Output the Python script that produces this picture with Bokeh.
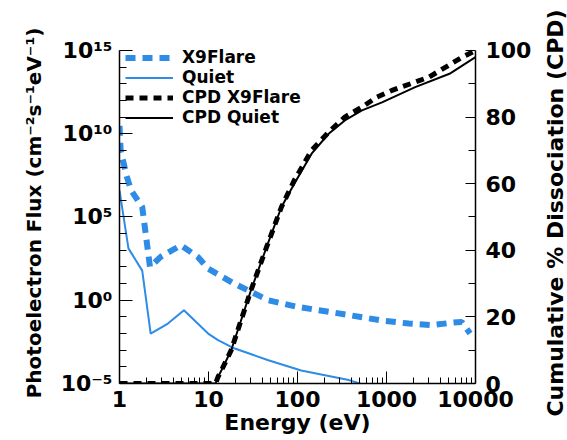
import math
from bokeh.plotting import figure
from bokeh.layouts import row
from bokeh.models import (Range1d, LinearScale, LinearAxis, FixedTicker, Legend, LegendItem)
from bokeh.embed import file_html
from bokeh.resources import INLINE

# ---- data ----
energy_flare = [1.0, 1.03, 1.2, 1.35, 1.8, 2.2, 2.9, 4.9, 7.6, 9.9, 19.4, 47, 100, 377,
                890, 1780, 3250, 5500, 7000, 8700]
flux_flare = [3e10, 1e9, 3e7, 4e6, 4e5, 1e2, 4e2, 2e3, 4e2, 8e1, 1e1, 1.0, 4e-1, 1.3e-1,
              6e-2, 4e-2, 3.2e-2, 4.5e-2, 5e-2, 1e-2]

energy_quiet = [1.0, 1.26, 1.8, 2.24, 3.5, 5.3, 9.9, 12.8, 19.4, 47, 110, 377, 500, 600]
flux_quiet = [4e6, 1.3e3, 6e1, 1e-2, 4e-2, 2.5e-1, 1e-2, 4e-3, 1.3e-3, 2.5e-4, 6e-5,
              1.6e-5, 1e-5, 6e-6]

energy_cpd_flare = [1, 12, 12.8, 14, 18, 30, 45, 66, 92, 144, 224, 340, 530, 780, 1150,
                    3000, 7100, 10000]
cpd_flare = [0, 0, 2, 4, 10, 28, 41, 53, 61, 70, 75.5, 80, 83, 86, 88, 92, 98, 100]

energy_cpd_quiet = [1, 12, 12.8, 14, 18, 30, 45, 66, 92, 144, 224, 340, 530, 890, 2100,
                    5100, 10000]
cpd_quiet = [0, 0, 2, 4, 10, 28, 41, 53, 60, 69, 75, 79, 82, 84.4, 89, 93, 98]

x_ticks = [1, 10, 100, 1000, 10000]
x_tick_labels = ["1", "10", "100", "1000", "10000"]
y_ticks = [1e-5, 1, 1e5, 1e10, 1e15]
y_tick_labels = ["10\u207b\u2075", "10\u2070", "10\u2075", "10\u00b9\u2070", "10\u00b9\u2075"]
cpd_ticks = [0, 20, 40, 60, 80, 100]
cpd_minor = [10, 30, 50, 70, 90]

x_title = "Energy (eV)"
y_title = "Photoelectron Flux (cm\u207b\u00b2s\u207b\u00b9eV\u207b\u00b9)"
y2_title = "Cumulative % Dissociation (CPD)"

FONT = "DejaVu Sans"
BLUE = "#2E8BE6"

# frame reaches 8 px above the top tick so that the legend is not clipped;
# the axes themselves are bounded to the data ranges
p = figure(width=539, height=440, x_axis_type="log", y_axis_type="log",
           x_range=Range1d(1, 10000), y_range=Range1d(1e-5, 10 ** 15.48),
           output_backend="svg", toolbar_location=None,
           min_border_left=119, min_border_right=64, min_border_top=42, min_border_bottom=57)
p.extra_y_ranges = {"cpd": Range1d(0, 102.4)}
p.extra_y_scales = {"cpd": LinearScale()}
p.outline_line_color = None
p.grid.visible = False

r1 = p.line(energy_flare, flux_flare, line_color=BLUE, line_width=6, line_dash="10 7")
r2 = p.line(energy_quiet, flux_quiet, line_color=BLUE, line_width=2)
r3 = p.line(energy_cpd_flare, cpd_flare, line_color="black", line_width=5, line_dash="8 6",
            y_range_name="cpd")
r4 = p.line(energy_cpd_quiet, cpd_quiet, line_color="black", line_width=2, y_range_name="cpd")

def style_axis(ax, tick_size="22px", label_size="22px"):
    ax.major_label_text_font = FONT
    ax.major_label_text_font_style = "bold"
    ax.major_label_text_font_size = tick_size
    ax.major_label_text_color = "black"
    ax.axis_label_text_font = FONT
    ax.axis_label_text_font_style = "bold"
    ax.axis_label_text_font_size = label_size
    ax.axis_label_text_color = "black"
    ax.axis_line_color = "black"
    ax.axis_line_width = 1.5
    ax.major_tick_line_color = "black"
    ax.minor_tick_line_color = "black"
    ax.major_tick_out = 0
    ax.minor_tick_out = 0

xa = p.xaxis[0]
xa.ticker = FixedTicker(ticks=x_ticks,
                        minor_ticks=[m * d for d in x_ticks[:-1] for m in range(2, 10)])
xa.major_label_overrides = dict(zip(x_ticks, x_tick_labels))
xa.axis_label = x_title
style_axis(xa)
xa.major_tick_in = 12
xa.minor_tick_in = 6
xa.major_label_standoff = 7
xa.axis_label_standoff = 0

ya = p.yaxis[0]
ya.ticker = FixedTicker(ticks=y_ticks, minor_ticks=[10.0 ** k for k in range(-5, 16)])
ya.major_label_overrides = dict(zip(y_ticks, y_tick_labels))
ya.axis_label = y_title
ya.bounds = (1e-5, 1e15)
style_axis(ya, "22px", "20px")
ya.major_tick_in = 13
ya.minor_tick_in = 7
ya.major_label_standoff = 7
ya.axis_label_standoff = 12

ra = LinearAxis(y_range_name="cpd", bounds=(0, 100),
                ticker=FixedTicker(ticks=cpd_ticks, minor_ticks=cpd_minor))
style_axis(ra)
ra.major_tick_in = 10
ra.minor_tick_in = 7
ra.major_label_standoff = 10
p.add_layout(ra, "right")

legend = Legend(items=[LegendItem(label="X9Flare", renderers=[r1]),
                       LegendItem(label="Quiet", renderers=[r2]),
                       LegendItem(label="CPD X9Flare", renderers=[r3]),
                       LegendItem(label="CPD Quiet", renderers=[r4])],
                location=(6, 256), orientation="vertical")
legend.label_text_font = FONT
legend.label_text_font_style = "bold"
legend.label_text_font_size = "17px"
legend.label_text_color = "black"
legend.label_height = 19
legend.glyph_height = 19
legend.glyph_width = 48
legend.label_standoff = 9
legend.spacing = -1
legend.padding = 2
legend.margin = 0
legend.border_line_color = None
legend.background_fill_alpha = 0
p.add_layout(legend, "center")

# right-hand title, reading bottom-to-top as in the reference: drawn as the
# (left, "parallel") axis label of a narrow companion figure
t = figure(width=28, height=440, x_range=Range1d(0, 1), y_range=Range1d(0, 1),
           output_backend="svg", toolbar_location=None,
           min_border_left=0, min_border_right=0, min_border_top=42, min_border_bottom=57)
t.xaxis.visible = False
t.grid.visible = False
t.outline_line_color = None
ty = t.yaxis[0]
ty.ticker = FixedTicker(ticks=[])
ty.axis_line_color = None
ty.major_tick_line_color = None
ty.minor_tick_line_color = None
ty.major_label_text_font_size = "0px"
ty.major_label_standoff = 0
ty.axis_label = y2_title
ty.axis_label_standoff = 0
ty.axis_label_text_font = FONT
ty.axis_label_text_font_style = "bold"
ty.axis_label_text_font_size = "22px"
ty.axis_label_text_color = "black"

layout = row(p, t, spacing=0)
open("out.html", "w").write(file_html(layout, INLINE))
